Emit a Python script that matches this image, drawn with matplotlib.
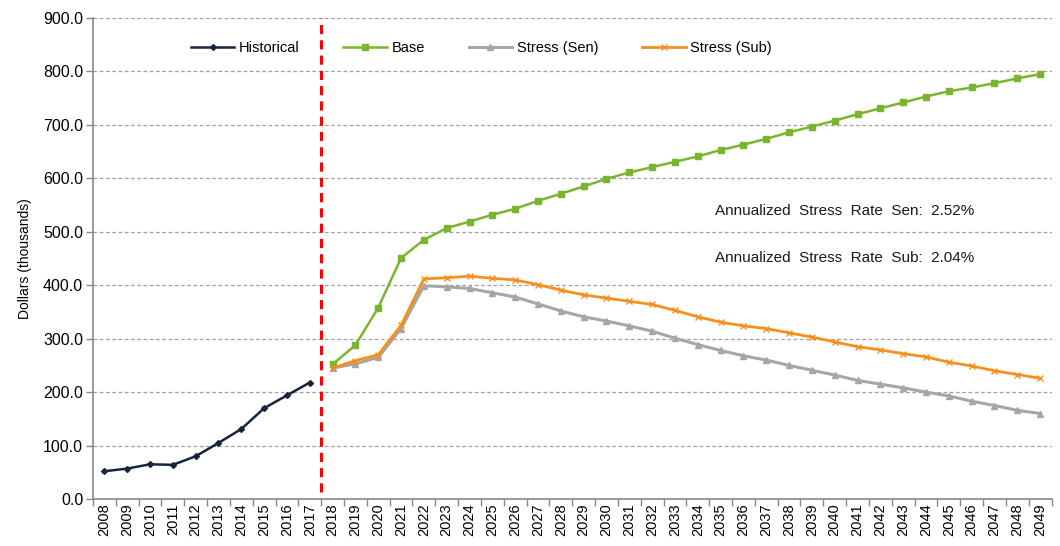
import matplotlib
matplotlib.use("Agg")
import matplotlib.pyplot as plt
import numpy as np
from matplotlib.ticker import FormatStrFormatter, FixedLocator

plt.rcParams['font.family'] = ['Liberation Sans', 'DejaVu Sans']

# categories
years = [str(y) for y in range(2008, 2050)]
hist_years = years[:10]
proj_years = years[10:]

# series (thousands of dollars)
historical = [52, 57, 65, 64, 80, 105, 131, 170, 194, 218]
base = [252, 288, 358, 451, 485, 507, 519, 532, 543, 558, 571, 585, 599, 611,
        621, 631, 641, 653, 663, 674, 686, 697, 708, 720, 731, 742, 753, 763,
        770, 778, 787, 795]
stress_sen = [245, 253, 265, 319, 399, 397, 394, 386, 378, 365, 352, 341, 333,
              324, 314, 301, 289, 278, 268, 260, 250, 241, 232, 222, 215, 208,
              200, 193, 183, 175, 166, 160]
stress_sub = [245, 259, 270, 325, 412, 414, 417, 413, 410, 401, 391, 382, 376,
              370, 364, 353, 341, 331, 324, 319, 311, 303, 294, 285, 279, 272,
              266, 256, 249, 240, 233, 226]

notes = ["Annualized  Stress  Rate  Sen:  2.52%",
         "Annualized  Stress  Rate  Sub:  2.04%"]

x_all = np.arange(len(years))
x_hist = x_all[:len(hist_years)]
x_proj = x_all[len(hist_years):]

fig = plt.figure(figsize=(10.6, 5.46), dpi=100)
ax = fig.add_axes([0.0877, 0.086, 0.9043, 0.881])

ax.plot(x_hist, historical, color='#172440', lw=1.8, marker='D', ms=3,
        label='Historical', zorder=4)
ax.plot(x_proj, base, color='#7AB530', lw=1.8, marker='s', ms=4,
        label='Base', zorder=4)
ax.plot(x_proj, stress_sen, color='#A6A6A6', lw=2.2, marker='^', ms=5,
        label='Stress (Sen)', zorder=3)
ax.plot(x_proj, stress_sub, color='#F4901E', lw=2.0, marker='x', ms=5, mew=1,
        label='Stress (Sub)', zorder=4)

# split between actuals and projections
ax.axvline(len(hist_years) - 0.5, ymin=0.015, ymax=1.0, color='#FF0000',
           lw=2.2, ls=(0, (3, 2)), zorder=5)

ax.set_xlim(-0.5, len(years) - 0.5)
ax.set_ylim(0, 900)
ax.set_yticks(np.arange(0, 901, 100))
ax.yaxis.set_major_formatter(FormatStrFormatter('%.1f'))
ax.set_xticks(x_all)
ax.set_xticklabels(years, rotation=90, fontsize=10.5)
ax.xaxis.set_minor_locator(FixedLocator(np.arange(-0.5, len(years), 1)))
ax.tick_params(axis='x', which='major', length=0, pad=3)
ax.tick_params(axis='x', which='minor', length=5, color='#888888', width=1)
ax.tick_params(axis='y', length=5, color='#888888', width=1, labelsize=11.5,
               pad=2)

ax.grid(axis='y', color='#a0a0a0', ls=(0, (3, 2)), lw=0.9)
ax.set_axisbelow(True)
for s in ['top', 'right']:
    ax.spines[s].set_visible(False)
for s in ['left', 'bottom']:
    ax.spines[s].set_color('#888888')
    ax.spines[s].set_linewidth(1.2)

ax.set_ylabel('Dollars (thousands)', fontsize=10, labelpad=8)

ax.legend(loc='center', bbox_to_anchor=(0.405, 0.937), ncol=4, frameon=False,
          fontsize=10.5, handlelength=3.0, columnspacing=3.0,
          handletextpad=0.3)

ax.text(0.649, 539, notes[0], transform=ax.get_yaxis_transform(),
        fontsize=11, va='center', ha='left', color='#1a1a1a')
ax.text(0.649, 451, notes[1], transform=ax.get_yaxis_transform(),
        fontsize=11, va='center', ha='left', color='#1a1a1a')

fig.savefig('out.png', dpi=100)
